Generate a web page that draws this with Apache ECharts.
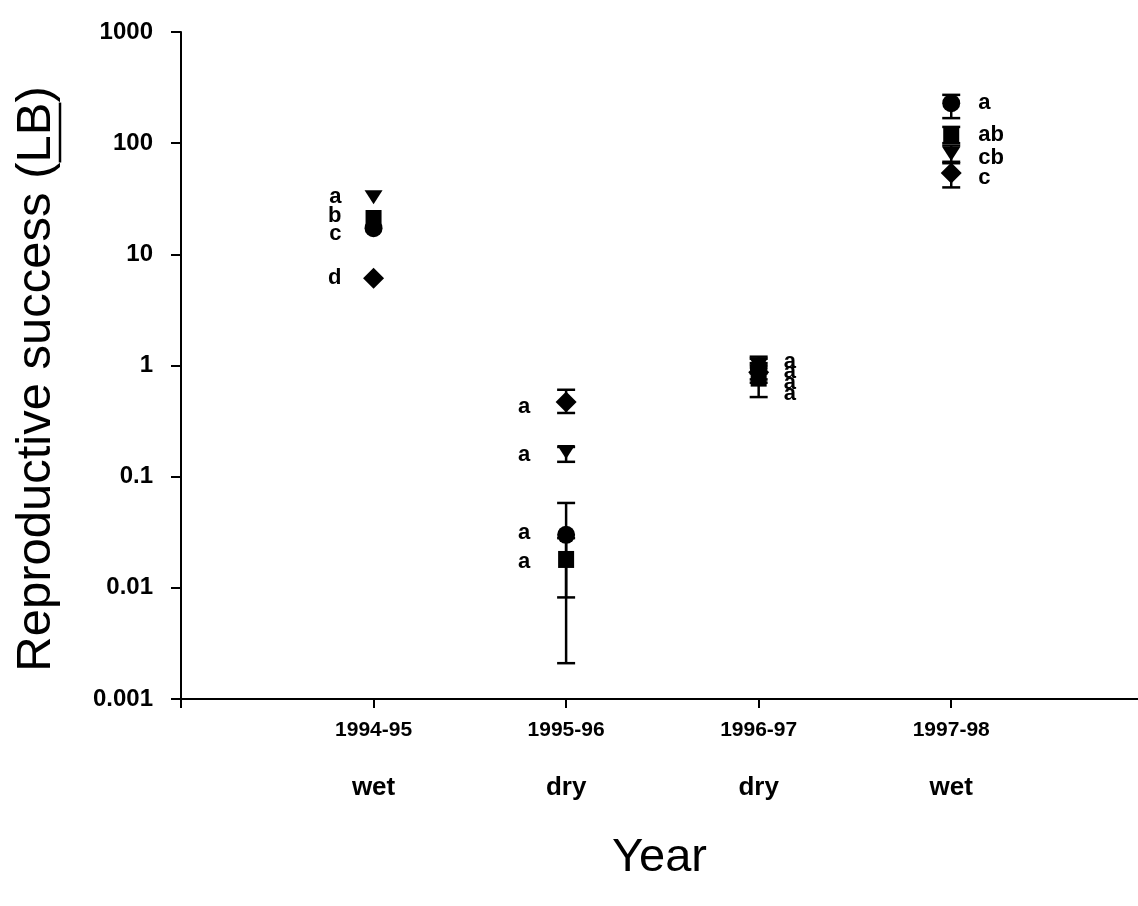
<!DOCTYPE html>
<html>
<head>
<meta charset="utf-8">
<script src="https://cdn.jsdelivr.net/npm/echarts@6/dist/echarts.min.js"></script>
<style>
  html, body { margin: 0; padding: 0; background: #fff; }
  #chart { width: 1138px; height: 906px; }
</style>
</head>
<body>
<div id="chart"></div>
<script>
// Seasons and their rainfall class
const years = ['1994-95', '1995-96', '1996-97', '1997-98'];
const seasons = ['wet', 'dry', 'dry', 'wet'];
const yTickLabels = ['0.001', '0.01', '0.1', '1', '10', '100', '1000'];

// Reproductive success (LB) per group, with error-bar limits (null = bar hidden by marker)
const circleVals = [17.2, 0.030, 0.95, 229];
const circleLow  = [null, 0.0021, 0.75, 168];
const circleHigh = [null, 0.058, 1.2, 272];
const circleLetters = ['c', 'a', 'a', 'a'];

const squareVals = [21, 0.018, 0.77, 118];
const squareLow  = [null, 0.0082, 0.52, 100];
const squareHigh = [null, 0.028, 1.0, 140];
const squareLetters = ['b', 'a', 'a', 'ab'];

const triangleVals = [32.7, 0.167, 1.0, 80];
const triangleLow  = [null, 0.136, 0.85, 68];
const triangleHigh = [null, 0.185, 1.15, 95];
const triangleLetters = ['a', 'a', 'a', 'cb'];

const diamondVals = [6.1, 0.47, 0.87, 54];
const diamondLow  = [null, 0.374, 0.7, 40];
const diamondHigh = [null, 0.605, 1.05, 66];
const diamondLetters = ['d', 'a', 'a', 'c'];

// Letter placement: side of the marker per season, plus small vertical nudges
const letterDx = [-32, -36, 25, 27];
const letterAlign = ['right', 'right', 'left', 'left'];
const groups = [
  { name: 'circle', vals: circleVals, low: circleLow, high: circleHigh, letters: circleLetters,
    symbol: 'circle', size: 18, rotate: 0, dy: [6, -2, 4, 0] },
  { name: 'square', vals: squareVals, low: squareLow, high: squareHigh, letters: squareLetters,
    symbol: 'rect', size: [16, 17], rotate: 0, dy: [-3, 2, 16, 0] },
  { name: 'triangle', vals: triangleVals, low: triangleLow, high: triangleHigh, letters: triangleLetters,
    symbol: 'triangle', size: [18, 14], rotate: 180, dy: [0, 3, -4, 4] },
  { name: 'diamond', vals: diamondVals, low: diamondLow, high: diamondHigh, letters: diamondLetters,
    symbol: 'diamond', size: 21, rotate: 0, dy: [0, 5, 11, 5] }
];

const sansFamily = '"Liberation Sans", Arial, sans-serif';

function errorBarItem(params, api) {
  const x = api.value(0);
  const lo = api.coord([x, api.value(1)]);
  const hi = api.coord([x, api.value(2)]);
  const half = 9;
  const style = { stroke: '#000', lineWidth: 2.5, fill: null };
  return {
    type: 'group',
    children: [
      { type: 'line', shape: { x1: lo[0], y1: lo[1], x2: hi[0], y2: hi[1] }, style },
      { type: 'line', shape: { x1: lo[0] - half, y1: lo[1], x2: lo[0] + half, y2: lo[1] }, style },
      { type: 'line', shape: { x1: hi[0] - half, y1: hi[1], x2: hi[0] + half, y2: hi[1] }, style }
    ]
  };
}

const series = [];
groups.forEach(g => {
  const bars = [];
  g.vals.forEach((v, i) => {
    if (g.low[i] != null) bars.push([i + 1, g.low[i], g.high[i]]);
  });
  series.push({
    type: 'custom',
    name: g.name + '-err',
    renderItem: errorBarItem,
    encode: { x: 0, y: [1, 2] },
    data: bars,
    z: 2,
    silent: true
  });
});
groups.forEach(g => {
  series.push({
    type: 'scatter',
    name: g.name,
    symbol: g.symbol,
    symbolSize: g.size,
    symbolRotate: g.rotate,
    itemStyle: { color: '#000', opacity: 1 },
    z: 3,
    silent: true,
    data: g.vals.map((v, i) => ({
      value: [i + 1, v],
      label: {
        show: true,
        position: 'inside',
        align: letterAlign[i],
        verticalAlign: 'middle',
        offset: [letterDx[i], g.dy[i]],
        formatter: g.letters[i],
        color: '#000',
        fontFamily: sansFamily,
        fontWeight: 'bold',
        fontSize: 22
      }
    }))
  });
});

// Y-axis title with underlined "LB", drawn rotated
const titleFont = 49;
const mctx = document.createElement('canvas').getContext('2d');
mctx.font = titleFont + 'px ' + sansFamily;
const titlePre = 'Reproductive success (';
const titleUnder = 'LB';
const titleText = titlePre + titleUnder + ')';
const wAll = mctx.measureText(titleText).width;
const wPre = mctx.measureText(titlePre).width;
const wUnder = mctx.measureText(titleUnder).width;
const ux1 = -wAll / 2 + wPre;
const ux2 = ux1 + wUnder;

const chart = echarts.init(document.getElementById('chart'), null, { renderer: 'canvas' });
chart.setOption({
  backgroundColor: '#fff',
  animation: false,
  grid: { left: 181, right: 0, top: 32, bottom: 207, containLabel: false },
  xAxis: {
    type: 'value',
    min: 0,
    max: 4.97,
    interval: 1,
    splitLine: { show: false },
    axisLine: { show: true, lineStyle: { color: '#000', width: 2 } },
    axisTick: { show: true, inside: false, length: 9, lineStyle: { color: '#000', width: 2 } },
    axisLabel: {
      margin: 18,
      color: '#000',
      showMaxLabel: false,
      formatter: v => {
        const i = Math.round(v) - 1;
        if (i < 0 || i >= years.length || Math.abs(v - (i + 1)) > 1e-6) return '';
        return '{y|' + years[i] + '}\n{s|' + seasons[i] + '}';
      },
      rich: {
        y: { fontFamily: sansFamily, fontWeight: 'bold', fontSize: 21, lineHeight: 26, color: '#000' },
        s: { fontFamily: sansFamily, fontWeight: 'bold', fontSize: 26, lineHeight: 90, color: '#000' }
      }
    },
    name: 'Year',
    nameLocation: 'middle',
    nameGap: 136,
    nameTextStyle: { fontFamily: sansFamily, fontSize: 47, color: '#000' }
  },
  yAxis: {
    type: 'log',
    logBase: 10,
    min: 0.001,
    max: 1000,
    splitLine: { show: false },
    minorTick: { show: false },
    axisLine: { show: true, lineStyle: { color: '#000', width: 2 } },
    axisTick: { show: true, inside: false, length: 10, lineStyle: { color: '#000', width: 2 } },
    axisLabel: {
      margin: 28,
      color: '#000',
      fontFamily: sansFamily,
      fontWeight: 'bold',
      fontSize: 24,
      formatter: v => yTickLabels[Math.round(Math.log10(v)) + 3]
    }
  },
  graphic: [{
    type: 'group',
    x: 36,
    y: 379,
    rotation: Math.PI / 2,
    silent: true,
    children: [
      {
        type: 'text',
        style: {
          text: titleText,
          x: 0, y: 0,
          align: 'center',
          verticalAlign: 'middle',
          fontFamily: sansFamily,
          fontSize: titleFont,
          fill: '#000'
        }
      },
      {
        type: 'line',
        shape: { x1: ux1, y1: 24, x2: ux2, y2: 24 },
        style: { stroke: '#000', lineWidth: 2.5 }
      }
    ]
  }],
  series
});
</script>
</body>
</html>
